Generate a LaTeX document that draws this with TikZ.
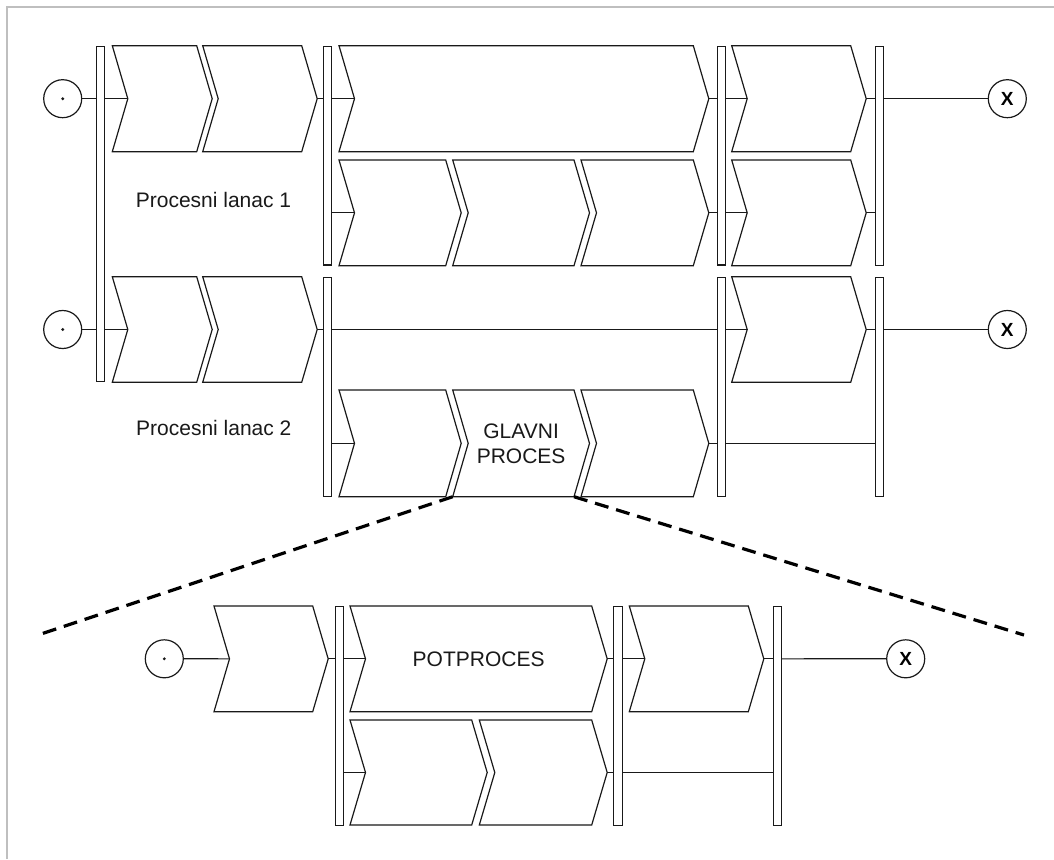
\documentclass[tikz,border=0pt]{standalone}
\usepackage{fontspec}
\setmainfont{Liberation Sans}
\tikzset{
  ln/.style={draw=black!90, line width=1.2pt},
  chevline/.style={ln, fill=white, line join=miter},
  chevtext/.style={inner sep=0pt, font=\fontsize{21}{25}\selectfont, align=center, text=black!90},
  barbox/.style={draw=black!90, line width=1.1pt, fill=white, inner sep=0pt, rectangle},
  startev/.style={ln, circle, minimum size=38pt, inner sep=0pt},
  endev/.style={ln, circle, minimum size=38pt, inner sep=0pt, font=\fontsize{19}{19}\selectfont\bfseries},
  conn/.style={ln},
  zoomline/.style={draw=black, line width=3.2pt, dash pattern=on 14pt off 8pt},
  lbl/.style={inner sep=0pt, font=\fontsize{21}{25}\selectfont, text=black!90}
}
\def\chevd{15.5}
% name, L, R, T, B, text
\newcommand{\mychev}[6]{%
  \pgfmathsetmacro\chevmid{(#4+#5)/2}%
  \draw[chevline] (#2,#4) -- (#3,#4) -- (#3+\chevd,\chevmid) -- (#3,#5) -- (#2,#5) -- (#2+\chevd,\chevmid) -- cycle;
  \coordinate (#1-in) at (#2+\chevd,\chevmid);
  \coordinate (#1-out) at (#3+\chevd,\chevmid);
  \coordinate (#1-bl) at (#2,#5);
  \coordinate (#1-br) at (#3,#5);
  \node[chevtext] (#1) at ({(#2+#3)/2+\chevd/2},\chevmid) {#6};
}
% name, x1, x2, y1, y2
\newcommand{\mybar}[5]{%
  \node[barbox, minimum width={#3-#2-0.4}, minimum height={#5-#4-1.1}] (#1) at ({(#2+#3)/2},{(#4+#5)/2}) {};
}
% start event: circle with a small centred dot
\newcommand{\mystart}[3]{%
  \node[startev] (#1) at (#2,#3) {};
  \fill[black!90] (#1.center) circle (1.6pt);
}
\begin{document}
\begin{tikzpicture}[x=1pt, y=-1pt]
\useasboundingbox (0,0) rectangle (1054,859);
% frame
\draw[black!25, line width=2pt] (7,859) -- (7,7.5) -- (1054,7.5);

% ---------- Chain 1 ----------
\mystart{s1}{62.7}{98.7}
\mybar{b11}{96}{104.3}{45.7}{382.3}
\mychev{a1}{112.3}{196.7}{45.7}{151.7}{}
\mychev{a2}{202.7}{301.7}{45.7}{151.7}{}
\mybar{b12}{323}{331.7}{45.7}{265.5}
\mychev{m1}{339}{693.3}{45.7}{151.7}{}
\mychev{r1}{339}{445.7}{160}{265.7}{}
\mychev{r2}{452.7}{574}{160}{265.7}{}
\mychev{r3}{581}{693.3}{160}{265.7}{}
\mybar{b13}{717}{725.3}{45.7}{265.5}
\mychev{q1}{731.7}{850.7}{45.7}{151.7}{}
\mychev{q2}{731.7}{850.7}{160}{265.7}{}
\mybar{b14}{875.7}{883.7}{45.7}{265.7}
\node[endev] (e1) at (1007.3,98.7) {X};
\node[lbl] (t1) at (213.5,199.5) {Procesni lanac 1};

\draw[conn] (s1) -- (s1 -| b11.west);
\draw[conn] (s1 -| b11.east) -- (a1-in);
\draw[conn] (a2-out) -- (a2-out -| b12.west);
\draw[conn] (m1-in -| b12.east) -- (m1-in);
\draw[conn] (r1-in -| b12.east) -- (r1-in);
\draw[conn] (m1-out) -- (m1-out -| b13.west);
\draw[conn] (r3-out) -- (r3-out -| b13.west);
\draw[conn] (q1-in -| b13.east) -- (q1-in);
\draw[conn] (q2-in -| b13.east) -- (q2-in);
\draw[conn] (q1-out) -- (q1-out -| b14.west);
\draw[conn] (q2-out) -- (q2-out -| b14.west);
\draw[conn] (q1-out -| b14.east) -- (e1);

% ---------- Chain 2 ----------
\mystart{s2}{62.7}{329.5}
\mychev{a3}{112.3}{196.7}{276.7}{382.3}{}
\mychev{a4}{202.7}{301.7}{276.7}{382.3}{}
\mybar{b22}{323.3}{331.7}{276.7}{496.7}
\mychev{g1}{339}{445.7}{390}{496.7}{}
\mychev{g2}{452.7}{574}{390}{496.7}{GLAVNI\\PROCES}
\mychev{g3}{581}{693.3}{390}{496.7}{}
\mybar{b23}{717}{725.3}{276.7}{496.7}
\mychev{q3}{731.7}{850.7}{276.7}{382.3}{}
\mybar{b24}{875.7}{883.7}{276.7}{496.7}
\node[endev] (e2) at (1007.3,329.5) {X};
\node[lbl] (t2) at (213.8,428) {Procesni lanac 2};

\draw[conn] (s2) -- (s2 -| b11.west);
\draw[conn] (s2 -| b11.east) -- (a3-in);
\draw[conn] (a4-out) -- (a4-out -| b22.west);
\draw[conn] (a4-out -| b22.east) -- (a4-out -| b23.west);
\draw[conn] (q3-in -| b23.east) -- (q3-in);
\draw[conn] (g1-in -| b22.east) -- (g1-in);
\draw[conn] (g3-out) -- (g3-out -| b23.west);
\draw[conn] (g3-out -| b23.east) -- (g3-out -| b24.west);
\draw[conn] (q3-out) -- (q3-out -| b24.west);
\draw[conn] (q3-out -| b24.east) -- (e2);

% ---------- zoom lines ----------
\coordinate (zl) at (38,635);
\coordinate (zr) at (1024,635);
\draw[zoomline] (g2-bl) -- (zl);
\draw[zoomline] (g2-br) -- (zr);

% ---------- Subprocess ----------
\mystart{s3}{164.3}{658.8}
\mychev{p1}{214}{312.7}{606}{711.7}{}
\mybar{b32}{335}{343.3}{606}{826}
\mychev{p2}{350}{591.7}{606}{711.7}{POTPROCES}
\mychev{p3}{350}{471.7}{720}{825}{}
\mychev{p4}{479.3}{591.7}{720}{825}{}
\mybar{b33}{613.3}{622.3}{606}{826}
\mychev{p5}{629.3}{748.3}{606}{711.7}{}
\mybar{b34}{773.3}{781.7}{606}{826}
\node[endev] (e3) at (905.7,658.8) {X};

\draw[conn] (s3) -- (p1-in);
\draw[conn] (p1-out) -- (p1-out -| b32.west);
\draw[conn] (p2-in -| b32.east) -- (p2-in);
\draw[conn] (p3-in -| b32.east) -- (p3-in);
\draw[conn] (p2-out) -- (p2-out -| b33.west);
\draw[conn] (p4-out) -- (p4-out -| b33.west);
\draw[conn] (p5-in -| b33.east) -- (p5-in);
\draw[conn] (p4-out -| b33.east) -- (p4-out -| b34.west);
\draw[conn] (p5-out) -- (p5-out -| b34.west);
\draw[conn] (p5-out -| b34.east) -- (e3);
\end{tikzpicture}
\end{document}
